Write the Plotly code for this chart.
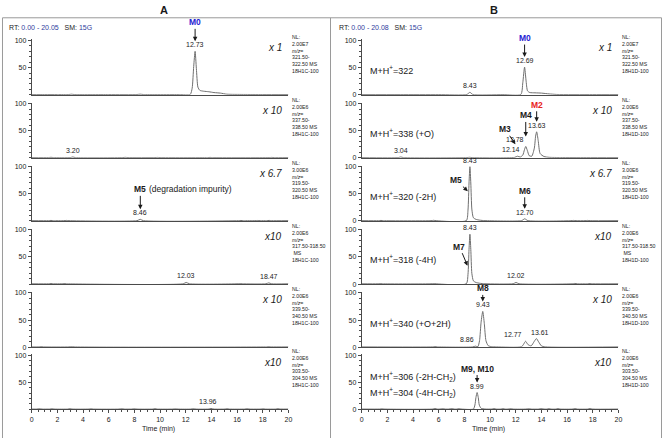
import plotly.graph_objects as go

# Retention time (min) / relative abundance (%).
# Rows top to bottom: m/z 322, 338, 320, 318, 340, 304.  A = left panel, B = right panel.
A322_T = [0, 1.0, 2.0, 2.9, 3.1, 3.3, 6.0, 8.2, 8.45, 8.7, 11.5, 12.35, 12.5, 12.62, 12.73, 12.83, 12.95, 13.1,
          13.4, 13.8, 14.2, 14.7, 15.2, 16.5, 18, 20]
A322_Y = [0.4, 0.4, 0.4, 0.4, 0.9, 0.4, 0.4, 0.4, 1.0, 0.4, 0.4, 0.6, 12, 52, 80, 48, 14, 8,
          6.5, 5.5, 4, 3, 1.0, 0.5, 0.4, 0.4]

A338_T = [0, 1.3, 1.5, 1.7, 3.0, 3.2, 3.4, 7.1, 7.3, 7.5, 9.6, 9.8, 10.0, 13.7, 13.9, 14.1, 18.5, 18.7, 18.9, 20]
A338_Y = [0.5, 0.5, 1.0, 0.5, 0.5, 1.6, 0.5, 0.5, 0.9, 0.5, 0.5, 0.8, 0.5, 0.5, 0.8, 0.5, 0.5, 0.8, 0.5, 0.5]

A320_T = [0, 1.3, 1.5, 1.7, 2.5, 2.7, 2.9, 8.2, 8.46, 8.7, 16.1, 16.3, 16.5, 17.4, 17.6, 17.8, 18.3, 18.5, 18.7, 20]
A320_Y = [0.5, 0.5, 1.0, 0.5, 0.5, 1.0, 0.5, 0.5, 3.0, 0.5, 0.5, 0.9, 0.5, 0.5, 0.9, 0.5, 0.5, 1.0, 0.5, 0.5]

A318_T = [0, 1.3, 1.5, 1.7, 2.3, 2.5, 2.7, 11.8, 12.03, 12.3, 16.0, 16.2, 16.4, 18.25, 18.47, 18.7, 20]
A318_Y = [0.5, 0.5, 1.0, 0.5, 0.5, 0.9, 0.5, 0.5, 3.0, 0.5, 0.5, 0.9, 0.5, 0.5, 2.2, 0.5, 0.5]

A340_T = [0, 0.5, 0.7, 0.9, 2.9, 3.1, 3.3, 18.3, 18.5, 18.7, 20]
A340_Y = [0.5, 0.5, 1.0, 0.5, 0.5, 1.0, 0.5, 0.5, 0.8, 0.5, 0.5]

A304_T = [0, 0.4, 0.6, 0.8, 1.4, 1.6, 1.8, 2.8, 3.0, 3.2, 4.4, 4.6, 4.8, 6.8, 7.0, 7.2, 7.8, 8.0, 8.2,
          9.4, 9.6, 9.8, 11.0, 11.2, 11.4, 12.4, 12.6, 12.8, 13.75, 13.96, 14.2, 15.0, 15.2, 15.4,
          16.6, 16.8, 17.0, 17.8, 18.0, 18.2, 19.0, 19.2, 19.4, 20]
A304_Y = [0.5, 0.5, 1.2, 0.5, 0.5, 1.1, 0.5, 0.5, 1.2, 0.5, 0.5, 1.0, 0.5, 0.5, 1.2, 0.5, 0.5, 1.1, 0.5,
          0.5, 1.2, 0.5, 0.5, 1.0, 0.5, 0.5, 1.2, 0.5, 0.5, 1.6, 0.5, 0.5, 1.1, 0.5,
          0.5, 1.2, 0.5, 0.5, 1.0, 0.5, 0.5, 1.2, 0.5, 0.5]

B322_T = [0, 3.0, 6.0, 8.2, 8.43, 8.65, 11.0, 12.4, 12.55, 12.69, 12.8, 12.92, 13.1, 13.5, 14.0, 14.6, 15.2, 18, 20]
B322_Y = [0.4, 0.4, 0.4, 0.5, 4.5, 0.5, 0.4, 0.6, 22, 51, 27, 7, 4, 3.5, 3, 1.5, 0.5, 0.4, 0.4]

B338_T = [0, 2.85, 3.04, 3.25, 8.2, 8.4, 8.6, 11.9, 12.14, 12.35, 12.55, 12.68, 12.78, 12.9, 13.05,
          13.25, 13.45, 13.55, 13.63, 13.75, 13.9, 14.2, 14.6, 15.5, 17.5, 20]
B338_Y = [0.5, 0.5, 1.6, 0.5, 0.5, 1.0, 0.5, 0.8, 3.0, 1.5, 5, 15, 21, 14, 4,
          3, 18, 40, 48, 32, 8, 2.5, 1.0, 0.6, 0.5, 0.5]

B320_T = [0, 1.3, 1.5, 1.7, 5.4, 5.6, 5.8, 8.15, 8.28, 8.36, 8.43, 8.5, 8.58, 8.7, 8.9, 9.2, 9.6,
          12.45, 12.7, 12.95, 16.3, 16.5, 16.7, 17.4, 17.6, 17.8, 20]
B320_Y = [0.5, 0.5, 1.0, 0.5, 0.5, 1.2, 0.5, 0.6, 20, 70, 100, 70, 22, 6, 3, 1.5, 0.6,
          0.6, 4.0, 0.6, 0.5, 1.0, 0.5, 0.5, 1.0, 0.5, 0.5]

B318_T = [0, 1.2, 1.4, 1.6, 5.4, 5.6, 5.8, 8.15, 8.28, 8.36, 8.43, 8.5, 8.58, 8.7, 8.9, 9.2, 9.6,
          11.8, 12.02, 12.25, 16.4, 16.6, 16.8, 17.6, 17.8, 18.0, 20]
B318_Y = [0.5, 0.5, 1.0, 0.5, 0.5, 1.0, 0.5, 0.6, 18, 64, 92, 64, 20, 6, 3, 1.5, 0.6,
          0.6, 3.0, 0.6, 0.5, 1.2, 0.5, 0.5, 1.0, 0.5, 0.5]

B340_T = [0, 5.5, 5.7, 5.9, 8.65, 8.86, 9.05, 9.18, 9.3, 9.43, 9.55, 9.68, 9.85, 10.1, 10.5,
          12.45, 12.6, 12.77, 12.95, 13.2, 13.45, 13.61, 13.78, 14.0, 14.3, 20]
B340_Y = [0.5, 0.5, 1.0, 0.5, 0.5, 2.0, 1.0, 12, 46, 66, 44, 12, 3, 1.0, 0.5,
          0.8, 5, 11, 5, 2.5, 11, 16, 10, 2.5, 0.6, 0.5]

B304_T = [0, 1.4, 1.6, 1.8, 5.5, 5.7, 5.9, 6.1, 6.3, 6.5, 6.8, 7.0, 7.2, 7.4, 7.6, 7.8,
          8.7, 8.82, 8.9, 8.99, 9.08, 9.16, 9.3, 9.6, 10.1, 10.3, 10.5, 10.8, 11.0, 11.2,
          11.4, 11.6, 11.8, 12.8, 13.0, 13.2, 13.8, 14.0, 14.2, 14.4, 14.6, 14.8,
          15.1, 15.3, 15.5, 16.4, 16.6, 16.8, 17.6, 17.8, 18.0, 20]
B304_Y = [0.5, 0.5, 1.0, 0.5, 0.5, 1.5, 0.5, 0.5, 1.3, 0.5, 0.5, 1.5, 0.5, 0.5, 1.2, 0.5,
          0.6, 8, 22, 31, 22, 8, 2, 0.6, 0.5, 1.3, 0.5, 0.5, 1.2, 0.5,
          0.5, 1.3, 0.5, 0.5, 1.2, 0.5, 0.5, 1.5, 0.5, 0.5, 1.2, 0.5,
          0.5, 1.3, 0.5, 0.5, 1.4, 0.5, 0.5, 1.5, 0.5, 0.5]

# labelled peaks (retention times as printed)
A_PEAKS = [["12.73"], ["3.20"], ["8.46"], ["12.03", "18.47"], [], ["13.96"]]
B_PEAKS = [["8.43", "12.69"], ["3.04", "12.14", "12.78", "13.63"], ["8.43", "12.70"],
           ["8.43", "12.02"], ["8.86", "9.43", "12.77", "13.61"], ["8.99"]]

MULTIPLIERS = ["x 1", "x 10", "x 6.7", "x10", "x 10", "x10"]
NL_LEVELS = ["2.00E7", "2.00E6", "3.00E6", "2.00E6", "2.00E6", "2.00E6"]
MZ_WINDOWS = ["321.50-<br>322.50 MS", "337.50-<br>338.50 MS", "319.50-<br>320.50 MS",
              "317.50-318.50<br> MS", "339.50-<br>340.50 MS", "303.50-<br>304.50 MS"]
SAMPLES = {"A": "18H1C-100", "B": "18H1D-100"}
RT_RANGE = {"A": "0.00 - 20.05", "B": "0.00 - 20.08"}
B_IONS = [["M+H<sup>+</sup>=322"], ["M+H<sup>+</sup>=338 (+O)"], ["M+H<sup>+</sup>=320 (-2H)"],
          ["M+H<sup>+</sup>=318 (-4H)"], ["M+H<sup>+</sup>=340 (+O+2H)"],
          ["M+H<sup>+</sup>=306 (-2H-CH<sub>2</sub>)", "M+H<sup>+</sup>=304 (-4H-CH<sub>2</sub>)"]]
X_TICKS = [0, 2, 4, 6, 8, 10, 12, 14, 16, 18, 20]

TRACES = {
    "A": [(A322_T, A322_Y), (A338_T, A338_Y), (A320_T, A320_Y), (A318_T, A318_Y), (A340_T, A340_Y), (A304_T, A304_Y)],
    "B": [(B322_T, B322_Y), (B338_T, B338_Y), (B320_T, B320_Y), (B318_T, B318_Y), (B340_T, B340_Y), (B304_T, B304_Y)],
}
PEAKS = {"A": A_PEAKS, "B": B_PEAKS}

# ---- page geometry (pixels) ----
W, H = 666, 438
BASE_PX = [93, 157, 221, 285, 349, 412]   # baseline of each row
AX_H = 56                                 # baseline -> top of y axis
PX_PER_UNIT = 0.55
COL_PX = {"A": (30, 289), "B": (363, 622)}

INK = "#1a1a1a"
TRACE = "#6f6f6f"
AXIS = "#4a4a4a"
BLUE = "#1f22d2"
RED = "#e8231c"
RT_BLUE = "#2e3c9c"
FONT = "Arial, 'Liberation Sans', sans-serif"

# arrow callouts: panel, row, text, colour, head time, head abundance (None = on top of peak label), ax, ay
ARROWS = [
    ("A", 0, "M0", BLUE, 12.73, None, 0, -19),
    ("A", 2, "M5", INK, 8.46, None, 0, -20),
    ("B", 0, "M0", BLUE, 12.69, None, 0, -19),
    ("B", 1, "M2", RED, 13.63, None, 0, -17),
    ("B", 1, "M4", INK, 12.78, None, 0, -21),
    ("B", 1, "M3", INK, 11.97, 25, -10, -15),
    ("B", 2, "M5", INK, 8.27, 55, -12, -11),
    ("B", 2, "M6", INK, 12.70, None, 0, -18),
    ("B", 3, "M7", INK, 8.24, 34, -8, -19),
    ("B", 4, "M8", INK, 9.43, None, 0, -13),
    ("B", 5, "M9, M10", INK, 8.99, None, 0, -14),
]
LABEL_DX = {("B", 1, "12.14"): -7, ("B", 1, "12.78"): -11, ("B", 4, "12.77"): -13,
            ("B", 4, "8.86"): -8, ("B", 4, "13.61"): 4, ("A", 5, "13.96"): -3}


def px(x):
    return x / W


def py(y):
    return 1 - y / H


def note(x, y, text, size, xanchor="center", yanchor="middle", **kw):
    """Text placed in page pixels."""
    return dict(x=px(x), y=py(y), xref="paper", yref="paper", text=text, showarrow=False,
                xanchor=xanchor, yanchor=yanchor, font=dict(family=FONT, size=size, color=INK), **kw)


def peak_top(ts, ys, t):
    return max(y for x, y in zip(ts, ys) if abs(x - t) <= 0.2)


fig = go.Figure()
layout = {}
ann = []

for c, panel in enumerate(["A", "B"]):
    x0, x1 = COL_PX[panel]
    for r in range(6):
        k = r * 2 + c + 1
        xa, ya = ("x", "y") if k == 1 else (f"x{k}", f"y{k}")
        xkey, ykey = ("xaxis", "yaxis") if k == 1 else (f"xaxis{k}", f"yaxis{k}")
        ts, ys = TRACES[panel][r]
        assert len(ts) == len(ys)
        fig.add_trace(go.Scatter(x=ts, y=ys, mode="lines", xaxis=xa, yaxis=ya, hoverinfo="skip",
                                 line=dict(color=TRACE, width=1, shape="spline", smoothing=0.6)))
        bottom = r == 5
        layout[xkey] = dict(
            domain=[px(x0), px(x1)], range=[0, 20], anchor=ya, showline=True, linecolor=AXIS, linewidth=1,
            showgrid=False, zeroline=False, fixedrange=True,
            ticks="outside" if bottom else "", ticklen=3, tickcolor=AXIS, tickvals=X_TICKS,
            showticklabels=bottom, tickfont=dict(family=FONT, size=7, color=INK),
            minor=dict(tickmode="linear", tick0=0, dtick=0.5, ticks="outside" if bottom else "",
                       ticklen=2, tickcolor=AXIS),
        )
        yt = [0, 50, 100] if (panel == "B" or r == 4) else [50, 100]
        layout[ykey] = dict(
            domain=[py(BASE_PX[r]), py(BASE_PX[r] - AX_H)], range=[0, AX_H / PX_PER_UNIT], anchor=xa,
            showline=True, linecolor=AXIS, linewidth=1, showgrid=False, zeroline=False, fixedrange=True,
            ticks="outside", ticklen=3, tickcolor=AXIS, tickvals=yt,
            tickfont=dict(family=FONT, size=7, color=INK),
            minor=dict(tickmode="linear", tick0=0, dtick=10, ticks="outside", ticklen=2, tickcolor=AXIS),
        )

        # peak retention-time labels
        for lab in PEAKS[panel][r]:
            t = float(lab)
            ann.append(dict(x=t, y=peak_top(ts, ys, t), xref=xa, yref=ya, text=lab, showarrow=False,
                            xanchor="center", yanchor="bottom", yshift=1,
                            xshift=LABEL_DX.get((panel, r, lab), 0),
                            font=dict(family=FONT, size=7, color=INK)))

        # scale multiplier
        ann.append(note(x1 - 4, BASE_PX[r] - 48, f"<i>{MULTIPLIERS[r]}</i>", 10, xanchor="right"))
        # normalisation block
        nl = f"NL:<br>{NL_LEVELS[r]}<br><i>m/z</i>=<br>{MZ_WINDOWS[r]}<br>{SAMPLES[panel]}"
        ann.append(note(x1 + 2, BASE_PX[r] - 64, nl, 5.2, xanchor="left", yanchor="top", align="left"))
        if panel == "B":
            lines = B_IONS[r]
            n = len(lines)
            for i, line in enumerate(lines):
                ann.append(note(369, BASE_PX[r] - 25 - 8 * (n - 1) + 16 * i, line, 9, xanchor="left"))

    # panel heading, RT/SM line, axis title
    cx = (x0 + x1) / 2
    ann.append(note(cx + 4, 7, f"<b>{panel}</b>", 11))
    rt = (f"RT:\u00a0<span style='color:{RT_BLUE}'>{RT_RANGE[panel]}</span>\u00a0\u00a0\u00a0SM:\u00a0"
          f"<span style='color:{RT_BLUE}'>15G</span>")
    ann.append(note(x0 - 25, 25, rt, 7, xanchor="left"))
    ann.append(note(cx - 2, 432, "Time (min)", 7))

for panel, r, text, color, t, hy, ax, ay in ARROWS:
    c = 0 if panel == "A" else 1
    k = r * 2 + c + 1
    xa, ya = ("x", "y") if k == 1 else (f"x{k}", f"y{k}")
    ts, ys = TRACES[panel][r]
    if hy is None:
        y, ysh = peak_top(ts, ys, t), 10
    else:
        y, ysh = hy, 0
    ann.append(dict(x=t, y=y, xref=xa, yref=ya, yshift=ysh, text=f"<b>{text}</b>", showarrow=True,
                    arrowhead=2, arrowsize=0.9, arrowwidth=1, arrowcolor=INK, ax=ax, ay=ay, standoff=0,
                    font=dict(family=FONT, size=8.5, color=color)))
    if panel == "A" and text == "M5":
        ann.append(dict(x=t, y=y, xref=xa, yref=ya, yshift=ysh - ay, xshift=7, xanchor="left",
                        yanchor="middle", text="(degradation impurity)", showarrow=False,
                        font=dict(family=FONT, size=8.5, color=INK)))

shapes = [
    dict(type="rect", xref="paper", yref="paper", x0=px(0.5), x1=px(331.5), y0=py(15), y1=py(445),
         line=dict(color="#9a9a9a", width=1)),
    dict(type="rect", xref="paper", yref="paper", x0=px(331.5), x1=px(665.5), y0=py(15), y1=py(445),
         line=dict(color="#9a9a9a", width=1)),
]

fig.update_layout(
    width=W, height=H, margin=dict(l=0, r=0, t=0, b=0), showlegend=False,
    paper_bgcolor="white", plot_bgcolor="white", font=dict(family=FONT, color=INK),
    annotations=ann, shapes=shapes, **layout,
)
# the page's default 8px body margin would push the figure off the window
fig.write_html("out.html", config={"displayModeBar": False},
               post_script="document.body.style.margin='0px';")
